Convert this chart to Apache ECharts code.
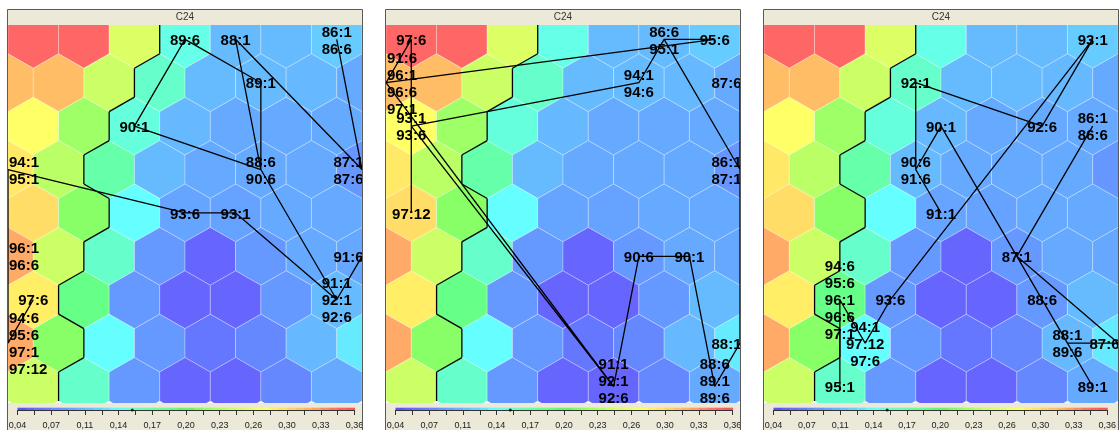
<!DOCTYPE html>
<html>
<head>
<meta charset="utf-8">
<script src="https://cdn.jsdelivr.net/npm/echarts@6/dist/echarts.min.js"></script>
<style>
  html, body { margin: 0; padding: 0; background: #ffffff; }
  #chart { width: 1119px; height: 430px; }
</style>
</head>
<body>
<div id="chart"></div>
<script>
// ---- Data -------------------------------------------------------------
// Component plane C24 on the hexagonal SOM lattice.
// Even rows: units at x = 0..6; odd rows: units at x = -0.5..6.5.
const planeRows = [
  [0.345, 0.345, 0.255, 0.142, 0.105, 0.105, 0.113],
  [0.310, 0.310, 0.245, 0.150, 0.105, 0.105, 0.103, 0.095],
  [0.275, 0.225, 0.145, 0.103, 0.095, 0.095, 0.095],
  [0.288, 0.237, 0.165, 0.105, 0.095, 0.095, 0.095, 0.083],
  [0.295, 0.215, 0.135, 0.092, 0.090, 0.095, 0.095],
  [0.320, 0.245, 0.150, 0.085, 0.055, 0.085, 0.095, 0.093],
  [0.285, 0.185, 0.085, 0.055, 0.055, 0.085, 0.105],
  [0.320, 0.215, 0.135, 0.085, 0.065, 0.075, 0.103, 0.127],
  [0.245, 0.150, 0.085, 0.055, 0.055, 0.075, 0.095]
];

// Cluster membership of each unit (same layout as planeRows); 1 = left cluster.
const clusterRows = [
  [1, 1, 1, 0, 0, 0, 0],
  [1, 1, 1, 0, 0, 0, 0, 0],
  [1, 1, 0, 0, 0, 0, 0],
  [1, 1, 0, 0, 0, 0, 0, 0],
  [1, 1, 0, 0, 0, 0, 0],
  [1, 1, 0, 0, 0, 0, 0, 0],
  [1, 0, 0, 0, 0, 0, 0],
  [1, 1, 0, 0, 0, 0, 0, 0],
  [1, 0, 0, 0, 0, 0, 0]
];

// Time points of the trajectories (year:month).
const timeLabels = ['86:1', '86:6', '87:1', '87:6', '88:1', '88:6', '89:1', '89:6',
  '90:1', '90:6', '91:1', '91:6', '92:1', '92:6', '93:1', '93:6', '94:1', '94:6',
  '95:1', '95:6', '96:1', '96:6', '97:1', '97:6', '97:12'];

// Best-matching unit [x, row] of each time point, one track per panel.
const trackFirst = [[6, 0], [6, 0], [6.5, 3], [6.5, 3], [4, 0], [4.5, 3], [4.5, 1], [3, 0],
  [2, 2], [4.5, 3], [6, 6], [6.5, 5], [6, 6], [6, 6], [4, 4], [3, 4], [-0.5, 3], [-0.5, 7],
  [-0.5, 3], [-0.5, 7], [-0.5, 5], [-0.5, 5], [-0.5, 7], [0, 6], [-0.5, 7]];
const trackSecond = [[6.5, 3], [5, 0], [6.5, 3], [6.5, 1], [6.5, 7], [6, 8], [6, 8], [6, 8],
  [5.5, 5], [4.5, 5], [4, 8], [-0.5, 1], [4, 8], [4, 8], [0, 2], [0, 2], [4.5, 1], [4.5, 1],
  [5, 0], [6, 0], [-0.5, 1], [-0.5, 1], [-0.5, 1], [0, 0], [0, 4]];
const trackThird = [[6, 2], [6, 2], [4.5, 5], [6.5, 7], [5.5, 7], [5, 6], [6, 8], [5.5, 7],
  [3, 2], [2.5, 3], [3, 4], [2.5, 3], [2.5, 1], [5, 2], [6, 0], [2, 6], [1.5, 7], [1, 6],
  [1, 8], [1, 6], [1, 6], [1, 6], [1, 6], [1.5, 7], [1.5, 7]];

// Colour scale
const scaleMin = 0.04;
const scaleMax = 0.36;
const tickLabels = ['0,04', '0,07', '0,11', '0,14', '0,17', '0,20', '0,23', '0,26', '0,30', '0,33', '0,36'];
const markerValue = 0.149;
const panelTitle = 'C24';

// ---- Styling ----------------------------------------------------------
const PANEL_LEFT = [8, 386, 764];
const HEX_TOP = 25, HEX_W = 354, HEX_H = 378;
const BAR_BG = '#ece9d8';
const LABEL_FONT = 'bold 15px "Liberation Sans", Arial, sans-serif';
const LINE_H = 17;

// Light "jet"-like colour map
const colorStops = [
  [0.040, '#5050ee'], [0.055, '#6666ff'], [0.085, '#6699ff'], [0.105, '#66bbff'],
  [0.122, '#66ddff'], [0.135, '#66ffff'], [0.150, '#66ffcc'], [0.165, '#66ffaa'],
  [0.185, '#66ff88'], [0.200, '#66ee66'], [0.215, '#88ff66'], [0.245, '#ccff66'],
  [0.275, '#ffff66'], [0.295, '#ffdd66'], [0.320, '#ffaa66'], [0.345, '#ff6666'],
  [0.360, '#ff5050']
];
function rgbOf(h) {
  return [parseInt(h.slice(1, 3), 16), parseInt(h.slice(3, 5), 16), parseInt(h.slice(5, 7), 16)];
}
function colorOf(v) {
  if (v <= colorStops[0][0]) return colorStops[0][1];
  for (let i = 1; i < colorStops.length; i++) {
    if (v <= colorStops[i][0]) {
      const a = colorStops[i - 1], b = colorStops[i];
      const t = (v - a[0]) / (b[0] - a[0]);
      const ca = rgbOf(a[1]), cb = rgbOf(b[1]);
      const c = ca.map((x, k) => Math.round(x + (cb[k] - x) * t));
      return 'rgb(' + c.join(',') + ')';
    }
  }
  return colorStops[colorStops.length - 1][1];
}

// ---- Derived structures ----------------------------------------------
const cells = [];
const clusterOf = new Map();
planeRows.forEach((row, r) => row.forEach((v, i) => {
  const x = r % 2 ? i - 0.5 : i;
  cells.push([x, r, v]);
  clusterOf.set(x + ',' + r, clusterRows[r][i]);
}));

// Hex edges separating two clusters: [x1, y1, x2, y2]
const borderEdges = [];
cells.forEach(([x, r]) => {
  const c = clusterOf.get(x + ',' + r);
  const check = (nx, nr, edge) => {
    const k = nx + ',' + nr;
    if (clusterOf.has(k) && clusterOf.get(k) !== c) borderEdges.push(edge);
  };
  check(x + 1, r, [x + 0.5, r - 1 / 3, x + 0.5, r + 1 / 3]);
  check(x + 0.5, r + 1, [x + 0.5, r + 1 / 3, x, r + 2 / 3]);
  check(x - 0.5, r + 1, [x, r + 2 / 3, x - 0.5, r + 1 / 3]);
});

function groupLabels(track) {
  const map = new Map();
  track.forEach((p, i) => {
    const k = p[0] + ',' + p[1];
    if (!map.has(k)) map.set(k, { x: p[0], y: p[1], texts: [] });
    map.get(k).texts.push(timeLabels[i]);
  });
  return Array.from(map.values()).map(g => ({ x: g.x, y: g.y, texts: g.texts.slice().sort() }));
}

const measureCtx = document.createElement('canvas').getContext('2d');
measureCtx.font = LABEL_FONT;
function textWidth(t) { return measureCtx.measureText(t).width; }

const SEGMENTS = 40;
const barSegments = [];
for (let i = 0; i < SEGMENTS; i++) {
  const v = scaleMin + (i + 0.5) / SEGMENTS * (scaleMax - scaleMin);
  barSegments.push([i * 10 / SEGMENTS, (i + 1) * 10 / SEGMENTS, v]);
}

// ---- Renderers --------------------------------------------------------
function renderHex(params, api) {
  const c = api.coord([api.value(0), api.value(1)]);
  const s = api.size([1, 1]);
  const hw = s[0] / 2, r = s[1] * 2 / 3;
  return {
    type: 'polygon',
    shape: { points: [
      [c[0], c[1] - r], [c[0] + hw, c[1] - r / 2], [c[0] + hw, c[1] + r / 2],
      [c[0], c[1] + r], [c[0] - hw, c[1] + r / 2], [c[0] - hw, c[1] - r / 2]
    ] },
    style: { fill: colorOf(api.value(2)), stroke: 'rgba(255,255,255,0.35)', lineWidth: 0.8 }
  };
}

function renderEdge(params, api) {
  const a = api.coord([api.value(0), api.value(1)]);
  const b = api.coord([api.value(2), api.value(3)]);
  return {
    type: 'line',
    shape: { x1: a[0], y1: a[1], x2: b[0], y2: b[1] },
    style: { stroke: '#000', lineWidth: 1.3 }
  };
}

function makeLabelRenderer(groups) {
  return function (params, api) {
    const g = groups[params.dataIndex];
    const c = api.coord([api.value(0), api.value(1)]);
    const cs = params.coordSys;
    const n = g.texts.length;
    let top = c[1] + 1.5 - (n - 1) / 2 * LINE_H;
    const bottom = top + (n - 1) * LINE_H;
    const maxBottom = cs.y + cs.height - 4;
    if (bottom > maxBottom) top -= bottom - maxBottom;
    if (top < cs.y + 8) top = cs.y + 8;
    const children = g.texts.map((t, k) => {
      const w = textWidth(t);
      let x = c[0];
      if (x - w / 2 < cs.x + 1) x = cs.x + 1 + w / 2;
      if (x + w / 2 > cs.x + cs.width + 1.5) x = cs.x + cs.width + 1.5 - w / 2;
      return {
        type: 'text', x: x, y: top + k * LINE_H,
        style: { text: t, font: LABEL_FONT, fill: '#000', align: 'center', verticalAlign: 'middle' }
      };
    });
    return { type: 'group', children: children };
  };
}

function renderSegment(params, api) {
  const a = api.coord([api.value(0), 1]);
  const b = api.coord([api.value(1), 0]);
  return {
    type: 'rect',
    shape: { x: a[0], y: a[1], width: b[0] - a[0] + 0.5, height: b[1] - a[1] },
    style: { fill: colorOf(api.value(2)) }
  };
}

// ---- Option -----------------------------------------------------------
const tracks = [trackFirst, trackSecond, trackThird];
const grids = [], xAxes = [], yAxes = [], series = [], graphics = [];

PANEL_LEFT.forEach((L, p) => {
  grids.push({ left: L, top: HEX_TOP, width: HEX_W, height: HEX_H });
  xAxes.push({ gridIndex: p, type: 'value', min: -0.5, max: 6.5, show: false });
  yAxes.push({ gridIndex: p, type: 'value', min: -0.33, max: 8.38, inverse: true, show: false });
});
PANEL_LEFT.forEach((L, p) => {
  grids.push({ left: L + 9.5, top: 407.7, width: 337, height: 5 });
  xAxes.push({
    gridIndex: 3 + p, type: 'value', min: 0, max: 10, interval: 1,
    axisLine: { show: true, onZero: false, lineStyle: { color: '#333', width: 1 } },
    axisTick: { show: true, length: 5, lineStyle: { color: '#333' } },
    minorTick: { show: true, splitNumber: 2, length: 5, lineStyle: { color: '#333' } },
    splitLine: { show: false },
    axisLabel: {
      formatter: v => tickLabels[Math.round(v)], fontSize: 9, color: '#222', margin: 11,
      fontFamily: '"Liberation Sans", Arial, sans-serif'
    }
  });
  yAxes.push({ gridIndex: 3 + p, type: 'value', min: 0, max: 1, show: false });
});

PANEL_LEFT.forEach((L, p) => {
  const groups = groupLabels(tracks[p]);
  series.push({
    type: 'custom', xAxisIndex: p, yAxisIndex: p, clip: true, z: 1,
    renderItem: renderHex, data: cells, silent: true
  });
  series.push({
    type: 'custom', xAxisIndex: p, yAxisIndex: p, clip: true, z: 2,
    renderItem: renderEdge, data: borderEdges, silent: true
  });
  series.push({
    type: 'line', xAxisIndex: p, yAxisIndex: p, clip: true, z: 3,
    data: tracks[p], showSymbol: false, symbol: 'none', smooth: false,
    lineStyle: { color: '#000', width: 1.3 }, silent: true
  });
  series.push({
    type: 'custom', xAxisIndex: p, yAxisIndex: p, clip: true, z: 4,
    renderItem: makeLabelRenderer(groups), data: groups.map(g => [g.x, g.y]), silent: true
  });
  series.push({
    type: 'custom', xAxisIndex: 3 + p, yAxisIndex: 3 + p, z: 2,
    renderItem: renderSegment, data: barSegments, silent: true
  });
  series.push({
    type: 'scatter', xAxisIndex: 3 + p, yAxisIndex: 3 + p, z: 5,
    data: [[(markerValue - scaleMin) / (scaleMax - scaleMin) * 10, 0]],
    symbol: 'circle', symbolSize: 3, itemStyle: { color: '#000' }, silent: true
  });

  graphics.push({ type: 'rect', z: 0, shape: { x: L, y: 10, width: HEX_W, height: 15 }, style: { fill: BAR_BG } });
  graphics.push({ type: 'rect', z: 0, shape: { x: L, y: HEX_TOP + HEX_H, width: HEX_W, height: 30 }, style: { fill: BAR_BG } });
  graphics.push({
    type: 'text', z: 10, x: L + HEX_W / 2, y: 17.5,
    style: { text: panelTitle, font: '10px "Liberation Sans", Arial, sans-serif', fill: '#333', align: 'center', verticalAlign: 'middle' }
  });
  graphics.push({
    type: 'rect', z: 100, shape: { x: L - 0.5, y: 9.5, width: HEX_W + 1, height: 440 },
    style: { fill: null, stroke: '#5a5a5a', lineWidth: 1 }
  });
});

const chart = echarts.init(document.getElementById('chart'), null, { renderer: 'canvas' });
chart.setOption({
  animation: false,
  backgroundColor: '#ffffff',
  grid: grids,
  xAxis: xAxes,
  yAxis: yAxes,
  series: series,
  graphic: graphics
});
</script>
</body>
</html>
